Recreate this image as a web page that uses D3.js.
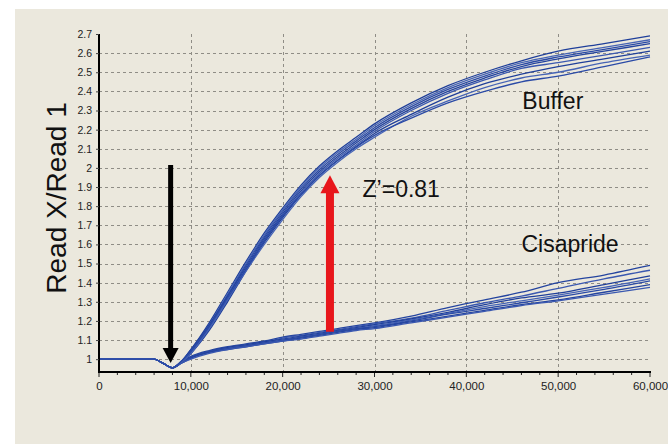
<!DOCTYPE html>
<html><head><meta charset="utf-8">
<script src="https://cdn.jsdelivr.net/npm/d3@7"></script>
<style>
html,body{margin:0;padding:0;background:#fff;}
svg{display:block;}
</style></head>
<body>
<svg id="c" width="668" height="444"></svg>
<script>
// ---- data ----
const xValues = [0,2000,4000,6000,7000,8000,9000,10000,12000,14000,16000,18000,20000,22000,24000,26000,28000,30000,34000,38000,42000,46000,50000,55000,60000];
const startSeg = [1.0,1.0,1.0,1.0,0.978,0.955];
const buffer1 = [0.99,1.05,1.19,1.35,1.51,1.66,1.79,1.91,2.01,2.09,2.16,2.23,2.34,2.43,2.50,2.56,2.61,2.65,2.69];
const buffer2 = [0.99,1.04,1.18,1.34,1.50,1.65,1.78,1.90,2.00,2.08,2.15,2.22,2.33,2.42,2.49,2.55,2.59,2.63,2.67];
const buffer3 = [0.985,1.04,1.17,1.33,1.49,1.64,1.77,1.89,1.99,2.07,2.14,2.21,2.32,2.41,2.48,2.54,2.58,2.62,2.66];
const buffer4 = [0.99,1.05,1.18,1.33,1.48,1.63,1.76,1.88,1.98,2.06,2.13,2.20,2.31,2.40,2.47,2.53,2.57,2.61,2.65];
const buffer5 = [0.985,1.03,1.16,1.31,1.47,1.62,1.75,1.87,1.97,2.05,2.12,2.19,2.30,2.39,2.46,2.52,2.55,2.59,2.63];
const buffer6 = [0.985,1.03,1.15,1.30,1.46,1.61,1.74,1.86,1.96,2.04,2.11,2.18,2.28,2.37,2.44,2.49,2.53,2.57,2.61];
const buffer7 = [0.985,1.03,1.16,1.31,1.46,1.60,1.73,1.85,1.95,2.03,2.10,2.16,2.27,2.35,2.42,2.47,2.50,2.55,2.59];
const buffer8 = [0.99,1.04,1.17,1.32,1.47,1.62,1.75,1.86,1.96,2.04,2.11,2.17,2.26,2.34,2.40,2.45,2.48,2.53,2.58];
const cis1 = [0.99,1.015,1.045,1.065,1.08,1.095,1.115,1.13,1.145,1.16,1.175,1.19,1.225,1.27,1.31,1.35,1.40,1.44,1.49];
const cis2 = [0.985,1.01,1.04,1.06,1.075,1.09,1.11,1.125,1.14,1.155,1.17,1.185,1.215,1.255,1.295,1.33,1.37,1.42,1.465];
const cis3 = [0.985,1.01,1.04,1.06,1.075,1.09,1.105,1.12,1.135,1.15,1.165,1.18,1.21,1.245,1.285,1.32,1.345,1.39,1.435];
const cis4 = [0.98,1.005,1.035,1.055,1.07,1.085,1.10,1.115,1.13,1.145,1.16,1.175,1.205,1.24,1.275,1.305,1.335,1.375,1.42];
const cis5 = [0.985,1.01,1.04,1.055,1.07,1.085,1.10,1.115,1.13,1.145,1.16,1.17,1.20,1.235,1.265,1.295,1.325,1.365,1.41];
const cis6 = [0.98,1.005,1.035,1.05,1.065,1.08,1.095,1.11,1.125,1.14,1.155,1.165,1.195,1.225,1.255,1.285,1.31,1.35,1.39];
const cis7 = [0.98,1.0,1.03,1.05,1.065,1.08,1.095,1.105,1.12,1.135,1.15,1.16,1.19,1.22,1.25,1.28,1.305,1.34,1.375];
const yTicks = [1,1.1,1.2,1.3,1.4,1.5,1.6,1.7,1.8,1.9,2,2.1,2.2,2.3,2.4,2.5,2.6,2.7];
const yTickLabels = ["1","1.1","1.2","1.3","1.4","1.5","1.6","1.7","1.8","1.9","2","2.1","2.2","2.3","2.4","2.5","2.6","2.7"];
const xTicks = [0,10000,20000,30000,40000,50000,60000];
const xTickLabels = ["0","10,000","20,000","30,000","40,000","50,000","60,000"];
const yTitle = "Read X/Read 1";
const labels = [
  {text:"Buffer", x:46100, y:2.31},
  {text:"Cisapride", x:46000, y:1.558},
  {text:"Z\u2019=0.81", x:28700, y:1.85}
];
const arrowBlack = {x:7800, from:2.015, to:0.98};
const arrowRed = {x:25150, from:1.143, to:1.962};

// ---- build ----
const svg = d3.select("#c");
svg.append("rect").attr("x",15).attr("y",9).attr("width",653).attr("height",435).attr("fill","#ebe8dd");

const x = d3.scaleLinear().domain([0,60000]).range([99,650]);
const y = d3.scaleLinear().domain([0.933,2.7]).range([372,34]);

// grid
const g = svg.append("g");
g.selectAll(".hg").data(yTicks.filter(v=>v<2.65)).join("line")
  .attr("x1",x(0)).attr("x2",x(60000)-2).attr("y1",d=>Math.round(y(d))+0.5).attr("y2",d=>Math.round(y(d))+0.5)
  .attr("stroke","#8f8d86").attr("stroke-width",1).attr("stroke-dasharray","3,3");
g.selectAll(".vg").data(xTicks.filter(v=>v>0&&v<60000)).join("line")
  .attr("x1",d=>Math.round(x(d))+0.5).attr("x2",d=>Math.round(x(d))+0.5).attr("y1",y(2.7)).attr("y2",y(0.933))
  .attr("stroke","#8f8d86").attr("stroke-width",1).attr("stroke-dasharray","3,3");

// series
const bufferSeries = [buffer1,buffer2,buffer3,buffer4,buffer5,buffer6,buffer7,buffer8];
const cisSeries = [cis1,cis2,cis3,cis4,cis5,cis6,cis7];
const line = d3.line().x(d=>x(d[0])).y(d=>y(d[1])).curve(d3.curveMonotoneX);
const toPts = arr => startSeg.concat(arr).map((v,i)=>[xValues[i],v]);
const colors = ["#24449f","#3a58b0","#1f3f9a","#4563b5","#2a4aa6"];
const lg = svg.append("g");
cisSeries.concat(bufferSeries).forEach((s,i)=>{
  lg.append("path").attr("d",line(toPts(s))).attr("fill","none")
    .attr("stroke",colors[i%colors.length]).attr("stroke-width",1.3);
});

// axes
const tickFont = "'Liberation Sans Narrow','Arial Narrow','Liberation Sans',Arial,sans-serif";
const yAxis = d3.axisLeft(y).tickValues(yTicks).tickFormat((d,i)=>yTickLabels[i]).tickSize(3).tickPadding(4);
const ya = svg.append("g").attr("transform","translate(99,0)").call(yAxis);
ya.select(".domain").attr("stroke","#000").attr("stroke-width",2).attr("d",`M0,${y(2.7)}V${y(0.933)}`);
ya.selectAll("text").attr("font-family",tickFont).attr("font-size",10.5).attr("fill","#222");
ya.selectAll(".tick line").attr("stroke","#444");

const minor = d3.range(0,60001,2000);
const xg = svg.append("g").attr("transform","translate(0,372)");
xg.selectAll(".mt").data(minor).join("line")
  .attr("x1",d=>x(d)).attr("x2",d=>x(d)).attr("y1",0).attr("y2",d=>d%10000===0?5:3)
  .attr("stroke","#222").attr("stroke-width",1);
const xAxis = d3.axisBottom(x).tickValues(xTicks).tickFormat((d,i)=>xTickLabels[i]).tickSize(0).tickPadding(10);
const xa = xg.call(xAxis);
xa.select(".domain").attr("stroke","#000").attr("stroke-width",2).attr("d",`M${x(0)-1},0H${x(60000)+1}`);
xa.selectAll("text").attr("font-family",tickFont).attr("font-size",11.5).attr("fill","#222");

// y title
svg.append("text").attr("transform",`translate(66,${198}) rotate(-90)`)
  .attr("text-anchor","middle").attr("font-family","'Liberation Sans',Arial,sans-serif")
  .attr("font-size",28).attr("fill","#111").text(yTitle);

// labels
svg.selectAll(".lbl").data(labels).join("text")
  .attr("x",d=>x(d.x)).attr("y",d=>y(d.y))
  .attr("font-family","'Liberation Sans',Arial,sans-serif").attr("font-size",23).attr("fill","#111")
  .text(d=>d.text);

// arrows
function arrow(a, color, shaftW, headW, headL){
  const ax = x(a.x), y0 = y(a.from), y1 = y(a.to);
  const dir = Math.sign(y1 - y0);
  const yb = y1 - dir*headL;
  svg.append("line").attr("x1",ax).attr("x2",ax).attr("y1",y0).attr("y2",yb+dir*1)
    .attr("stroke",color).attr("stroke-width",shaftW);
  svg.append("path").attr("d",`M${ax-headW/2},${yb}L${ax+headW/2},${yb}L${ax},${y1}Z`).attr("fill",color);
}
arrow(arrowBlack,"#000",5,16,15);
arrow(arrowRed,"#e8161b",8,19,18);
</script>
</body></html>
